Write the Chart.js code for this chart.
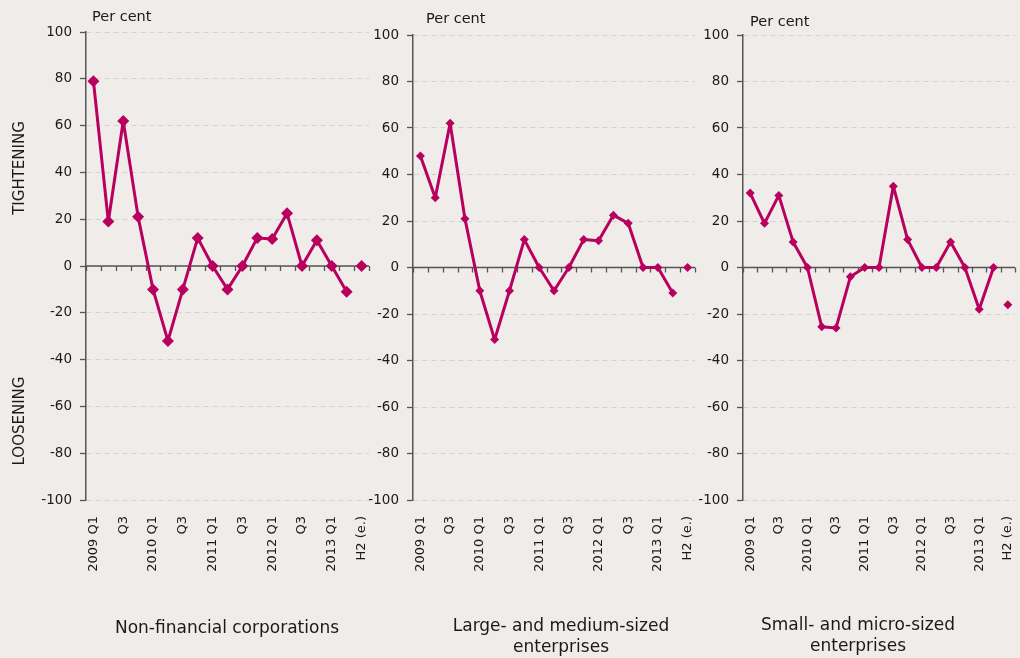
<!DOCTYPE html>
<html>
<head>
<meta charset="utf-8">
<script src="https://cdn.jsdelivr.net/npm/chart.js@4.4.1/dist/chart.umd.min.js"></script>
<style>
    body { margin: 0; background: #efece9; font-family: "DejaVu Sans", sans-serif; color: #1a1a1a; }
    #page { position: relative; width: 1020px; height: 658px; overflow: hidden; }
    .panel { position: absolute; top: 0; height: 658px; }
    .txt { position: absolute; white-space: nowrap; line-height: 1; }
    .title { position: absolute; text-align: center; font-size: 17px; line-height: 21px; transform: translateX(-50%); white-space: nowrap; }
    .side { position: absolute; font-size: 15px; transform: translate(-50%, -50%) rotate(-90deg); white-space: nowrap; }
</style>
</head>
<body>
<div id="page">
    <div class="panel" style="left:0px;width:375px"><canvas id="c1" width="375" height="658"></canvas></div>
    <div class="panel" style="left:365px;width:340px"><canvas id="c2" width="340" height="658"></canvas></div>
    <div class="panel" style="left:695px;width:325px"><canvas id="c3" width="325" height="658"></canvas></div>

    <div class="txt" style="left:92px;top:9px;font-size:14.5px">Per cent</div>
    <div class="txt" style="left:426px;top:11px;font-size:14.5px">Per cent</div>
    <div class="txt" style="left:750px;top:14px;font-size:14.5px">Per cent</div>

    <div class="side" style="left:19px;top:168px">TIGHTENING</div>
    <div class="side" style="left:19px;top:421px">LOOSENING</div>

    <div class="title" style="left:227px;top:617px">Non-financial corporations</div>
    <div class="title" style="left:561px;top:615px">Large- and medium-sized<br>enterprises</div>
    <div class="title" style="left:858px;top:614px">Small- and micro-sized<br>enterprises</div>
</div>
<script>
// Categories (quarters, last one is the H2 estimate)
const quarters = ['2009 Q1', 'Q2', 'Q3', 'Q4', '2010 Q1', 'Q2', 'Q3', 'Q4',
    '2011 Q1', 'Q2', 'Q3', 'Q4', '2012 Q1', 'Q2', 'Q3', 'Q4', '2013 Q1', 'Q2', 'H2 (e.)'];

// Net percentages per panel
const nonFinancial = [79, 19, 62, 21, -10, -32, -10, 12, 0, -10, 0, 12, 11.5, 22.5, 0, 11, 0, -11, 0];
const largeMedium = [48, 30, 62, 21, -10, -31, -10, 12, 0, -10, 0, 12, 11.5, 22.5, 19, 0, 0, -11, 0];
const smallMicro = [32, 19, 31, 11, 0, -25.5, -26, -4, 0, 0, 35, 12, 0, 0, 11, 0, -18, 0, -16];

const yTicks = { min: -100, max: 100, step: 20 };

const lineColor = '#b8005e';
const axisColor = '#555555';

// zero line with category tick marks, drawn through the chart's own scales
const zeroAxis = {
    id: 'zeroAxis',
    beforeDatasetsDraw(chart) {
        const x = chart.scales.x;
        const y = chart.scales.y;
        const area = chart.chartArea;
        const y0 = y.getPixelForValue(0);
        const ctx = chart.ctx;
        ctx.save();
        ctx.strokeStyle = axisColor;
        ctx.lineWidth = 1.3;
        ctx.beginPath();
        ctx.moveTo(area.left, y0);
        ctx.lineTo(area.right, y0);
        for (let i = 0; i <= quarters.length; i++) {
            const px = Math.round(x.getPixelForValue(i - 0.5)) + 0.5;
            ctx.moveTo(px, y0);
            ctx.lineTo(px, y0 + 5);
        }
        ctx.stroke();
        ctx.restore();
    }
};

function makeChart(id, values, yWidth, padRight, padTop, radius) {
    const ctx = document.getElementById(id).getContext('2d');
    return new Chart(ctx, {
        type: 'line',
        data: {
            labels: quarters,
            datasets: [{
                data: values,
                borderColor: lineColor,
                backgroundColor: lineColor,
                borderWidth: 3,
                borderJoinStyle: 'round',
                pointStyle: 'rectRot',
                pointRadius: radius,
                pointBorderWidth: 0,
                tension: 0,
                clip: false,
                segment: {
                    // the H2 estimate stands alone
                    borderColor: c => c.p1DataIndex === quarters.length - 1 ? 'rgba(0,0,0,0)' : undefined
                }
            }]
        },
        options: {
            responsive: false,
            animation: false,
            layout: { padding: { left: 0, right: padRight, top: padTop, bottom: 0 } },
            plugins: { legend: { display: false }, tooltip: { enabled: false } },
            scales: {
                x: {
                    offset: true,
                    grid: { display: false },
                    border: { display: false },
                    ticks: {
                        autoSkip: false,
                        maxRotation: 90,
                        minRotation: 90,
                        padding: 8,
                        color: '#1a1a1a',
                        font: { family: 'DejaVu Sans', size: 13 },
                        callback: (v, i) => i % 2 === 0 ? quarters[i] : ''
                    },
                    afterFit: s => {
                        s.height = 158;
                        s.paddingLeft = 0;
                        s.paddingRight = 0;
                    }
                },
                y: {
                    min: yTicks.min,
                    max: yTicks.max,
                    ticks: {
                        stepSize: yTicks.step,
                        padding: 8,
                        color: '#1a1a1a',
                        font: { family: 'DejaVu Sans', size: 13.5 }
                    },
                    grid: {
                        color: '#d6d3cf',
                        lineWidth: 1,
                        tickColor: axisColor,
                        tickLength: 6,
                        tickWidth: 1.3
                    },
                    border: { display: true, color: axisColor, width: 1.5, dash: [5, 4] },
                    afterFit: s => { s.width = yWidth; }
                }
            }
        },
        plugins: [zeroAxis]
    });
}

makeChart('c1', nonFinancial, 86, 6, 32, 6);
makeChart('c2', largeMedium, 48, 10, 35, 4.5);
makeChart('c3', smallMicro, 48, 5, 35, 4.5);
</script>
</body>
</html>
